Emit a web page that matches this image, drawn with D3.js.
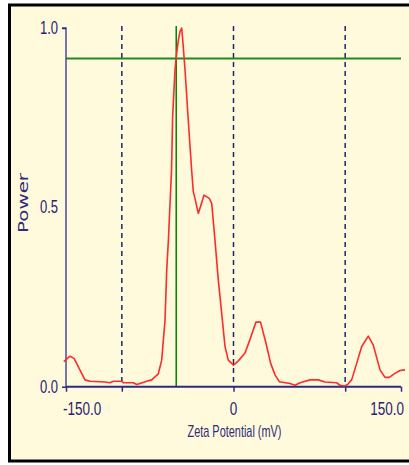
<!DOCTYPE html>
<html>
<head>
<meta charset="utf-8">
<script src="https://cdn.jsdelivr.net/npm/d3@7"></script>
<style>
  body { margin: 0; background: #fff; }
  svg { display: block; }
</style>
</head>
<body>
<div class="vizcontainer"></div>
<script>
// zeta potential distribution (mV, relative power)
const zeta = [-152, -146.4, -142.8, -133, -128.5, -115, -110.6, -107.6, -100, -98.7, -89.7, -86.7, -83.7, -77.7, -73.3, -67.3, -64.3, -61.3, -59.8, -58.3, -55.5, -54.5, -52.4, -50.9, -49.4, -47.9, -46.4, -45, -43.4, -40.5, -37.4, -36, -34.5, -31.5, -26.4, -21.7, -19.5, -16.6, -13.6, -10.6, -7.6, -4.7, 0, 4.3, 10.3, 14.8, 20.1, 24.2, 29.1, 33.3, 37.2, 41, 50.6, 55.1, 59.6, 68.5, 75.9, 81.9, 92.4, 95.4, 99.8, 102.8, 105.8, 110.3, 114.8, 120.7, 125.2, 131.2, 135.7, 139.5, 144.6, 149.1, 153.6];
const power = [0.07, 0.085, 0.079, 0.019, 0.015, 0.013, 0.011, 0.015, 0.015, 0.011, 0.011, 0.006, 0.009, 0.015, 0.019, 0.036, 0.074, 0.186, 0.325, 0.409, 0.604, 0.753, 0.883, 0.929, 0.966, 0.99, 1.0, 0.948, 0.883, 0.743, 0.6, 0.544, 0.525, 0.483, 0.534, 0.525, 0.511, 0.409, 0.297, 0.205, 0.112, 0.074, 0.06, 0.072, 0.094, 0.132, 0.18, 0.18, 0.121, 0.065, 0.033, 0.014, 0.009, 0.004, 0.011, 0.019, 0.019, 0.013, 0.011, 0.004, 0.002, 0.008, 0.019, 0.065, 0.112, 0.141, 0.116, 0.047, 0.026, 0.026, 0.037, 0.045, 0.047];

const yTicks = [0, 0.5, 1];
const yTickLabels = ["0.0", "0.5", "1.0"];
const xTicks = [-150, -100, 0, 100, 150];
const xTickLabels = {"-150": "-150.0", "0": "0", "150": "150.0"};
const dashedAt = [-100, 0, 100];
const peakZeta = -51.3;   // green vertical marker
const levelPower = 0.915; // green horizontal marker

const W = 409, H = 465;
const plot = { left: 66, right: 401, top: 28, bottom: 386.7 };

const svg = d3.select(".vizcontainer").append("svg")
  .attr("width", W).attr("height", H);

// panel with black frame
svg.append("rect")
  .attr("x", 9.5).attr("y", 5).attr("width", 430).attr("height", 456)
  .attr("fill", "#fffadc").attr("stroke", "#000").attr("stroke-width", 3);

const x = d3.scaleLinear().domain([-150, 150]).range([plot.left, plot.right]);
const y = d3.scaleLinear().domain([0, 1]).range([plot.bottom, plot.top]);

// dashed reference lines
svg.selectAll(".dash")
  .data(dashedAt)
  .enter().append("line")
  .attr("x1", d => x(d)).attr("x2", d => x(d))
  .attr("y1", plot.top - 2).attr("y2", plot.bottom)
  .attr("stroke", "#1e2470").attr("stroke-width", 1.5)
  .attr("stroke-dasharray", "5,4");

// green markers
svg.append("line")
  .attr("x1", plot.left).attr("x2", plot.right)
  .attr("y1", y(levelPower)).attr("y2", y(levelPower))
  .attr("stroke", "#1f8a1f").attr("stroke-width", 2);
svg.append("line")
  .attr("x1", x(peakZeta)).attr("x2", x(peakZeta))
  .attr("y1", y(1.0) - 2).attr("y2", plot.bottom)
  .attr("stroke", "#008000").attr("stroke-width", 1.5);

// axes
const yAxis = d3.axisLeft(y).tickValues(yTicks).tickSize(4).tickFormat("");
const gy = svg.append("g").attr("transform", "translate(" + plot.left + ",0)").call(yAxis);
gy.select(".domain").attr("stroke", "#4a4a9c").attr("stroke-width", 1.5)
  .attr("d", "M-4," + y(1) + "H0V" + plot.bottom);
gy.selectAll(".tick line").attr("stroke", "#2a2a80").attr("stroke-width", 1.5)
  .attr("opacity", d => d === 0.5 ? 0 : 1);

const xAxis = d3.axisBottom(x).tickValues(xTicks).tickSize(5).tickFormat("");
const gx = svg.append("g").attr("transform", "translate(0," + plot.bottom + ")").call(xAxis);
gx.select(".domain").attr("stroke", "#2a2a80").attr("stroke-width", 2)
  .attr("d", "M" + plot.left + ",0H" + plot.right);
gx.selectAll(".tick line").attr("stroke", "#2a2a80").attr("stroke-width", 1.5);

// tick labels (narrow font, stretched vertically)
const labelFont = "'Liberation Sans Narrow', 'Liberation Sans', Arial, sans-serif";
svg.selectAll(".ylab")
  .data(yTicks)
  .enter().append("text")
  .attr("transform", d => "translate(58," + (y(d) + 6) + ") scale(1,1.35)")
  .attr("text-anchor", "end")
  .attr("font-family", labelFont).attr("font-size", 13)
  .attr("fill", "#2c1c70")
  .text((d, i) => yTickLabels[i]);

svg.selectAll(".xlab")
  .data(xTicks.filter(d => xTickLabels[d] !== undefined))
  .enter().append("text")
  .attr("transform", d => "translate(" + (d === -150 ? 63 : d === 150 ? 404 : x(d)) + ",415) scale(1,1.35)")
  .attr("text-anchor", d => d === -150 ? "start" : d === 150 ? "end" : "middle")
  .attr("font-family", labelFont).attr("font-size", 13.5)
  .attr("fill", "#2c1c70")
  .text(d => xTickLabels[d]);

svg.append("text")
  .attr("x", 234.5).attr("y", 437)
  .attr("text-anchor", "middle")
  .attr("font-family", labelFont).attr("font-size", 17)
  .attr("textLength", 94).attr("lengthAdjust", "spacingAndGlyphs")
  .attr("fill", "#2c2c7a")
  .text("Zeta Potential (mV)");

svg.append("text")
  .attr("transform", "translate(28,203) rotate(-90)")
  .attr("text-anchor", "middle")
  .attr("font-family", "'DejaVu Sans', Verdana, sans-serif").attr("font-size", 14)
  .attr("textLength", 60).attr("lengthAdjust", "spacingAndGlyphs")
  .attr("fill", "#2c2c7a")
  .text("Power");

// distribution curve
const line = d3.line()
  .x((d, i) => x(zeta[i]))
  .y(d => y(d));
svg.append("path")
  .datum(power)
  .attr("d", line)
  .attr("fill", "none")
  .attr("stroke", "#ff2a2a")
  .attr("stroke-width", 1.6)
  .attr("stroke-linejoin", "round");
</script>
</body>
</html>
